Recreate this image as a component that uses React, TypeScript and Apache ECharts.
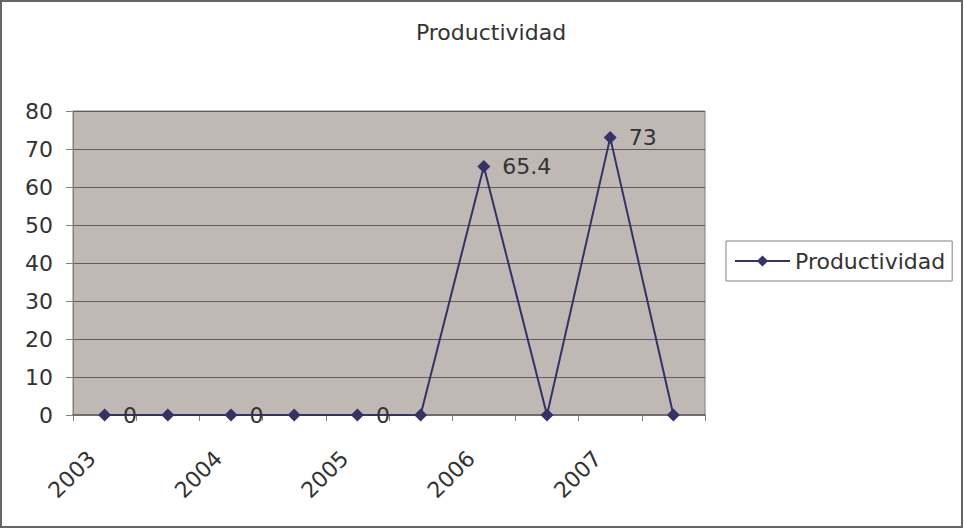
import React, { useEffect, useRef } from "react";
import * as echarts from "echarts";

const categories = ["2003", "", "2004", "", "2005", "", "2006", "", "2007", ""];
const productividad = [0, 0, 0, 0, 0, 0, 65.4, 0, 73, 0];
const yTicks = { min: 0, max: 80, interval: 10 };
const seriesName = "Productividad";
const titleText = "Productividad";

const FONT = "'DejaVu Sans', sans-serif";
const FS = 22;
const TEXT = "#333333";

export default function App() {
  const ref = useRef<HTMLDivElement>(null);
  useEffect(() => {
    if (!ref.current) return;
    const chart = echarts.init(ref.current, undefined, { renderer: "svg" });
    chart.setOption({
      animation: false,
      backgroundColor: "#ffffff",
      textStyle: { fontFamily: FONT },
      title: {
        text: titleText,
        left: 486,
        textAlign: "center",
        top: 16,
        textStyle: { fontFamily: FONT, fontSize: FS, fontWeight: "normal", color: TEXT },
      },
      graphic: [
        {
          type: "rect",
          shape: { x: 1, y: 1, width: 961, height: 526 },
          style: { fill: "none", stroke: "#666666", lineWidth: 2 },
          silent: true,
          z: 100,
        },
      ],
      legend: {
        left: 726,
        top: 241,
        orient: "vertical",
        padding: [9, 7, 9, 8],
        borderColor: "#808080",
        borderWidth: 1,
        itemWidth: 55,
        itemHeight: 14,
        textStyle: { fontFamily: FONT, fontSize: FS, color: TEXT },
        data: [seriesName],
      },
      grid: {
        left: 73,
        right: 259,
        top: 111,
        bottom: 114,
        show: true,
        backgroundColor: "#C0B8B5",
        borderColor: "#808080",
        borderWidth: 1,
        containLabel: false,
      },
      xAxis: {
        type: "category",
        data: categories,
        boundaryGap: true,
        axisLine: { show: true, lineStyle: { color: "#6e6e6e", width: 2 } },
        axisTick: { show: true, interval: 0, length: 6, lineStyle: { color: "#808080" } },
        axisLabel: {
          interval: 0,
          rotate: 45,
          margin: 27,
          padding: [0, 18, 0, 0],
          fontFamily: FONT,
          fontSize: FS,
          color: TEXT,
        },
        splitLine: { show: false },
      },
      yAxis: {
        type: "value",
        min: yTicks.min,
        max: yTicks.max,
        interval: yTicks.interval,
        axisLine: { show: true, lineStyle: { color: "#808080", width: 1 } },
        axisTick: { show: true, length: 7, lineStyle: { color: "#808080" } },
        axisLabel: { margin: 20, fontFamily: FONT, fontSize: FS, color: TEXT },
        splitLine: { show: true, lineStyle: { color: "#5f5f5f", width: 1 } },
      },
      series: [
        {
          name: seriesName,
          type: "line",
          data: productividad,
          symbol: "diamond",
          symbolSize: 13,
          showAllSymbol: true,
          itemStyle: { color: "#333366" },
          lineStyle: { color: "#333366", width: 2 },
          label: {
            show: true,
            position: "right",
            distance: 12,
            fontFamily: FONT,
            fontSize: FS,
            color: TEXT,
            formatter: (p: any) => (categories[p.dataIndex] ? String(p.value) : ""),
          },
        },
      ],
    });
    return () => chart.dispose();
  }, []);
  return (
    <div
      ref={ref}
      style={{ position: "fixed", left: 0, top: 0, width: 964, height: 529 }}
    />
  );
}
